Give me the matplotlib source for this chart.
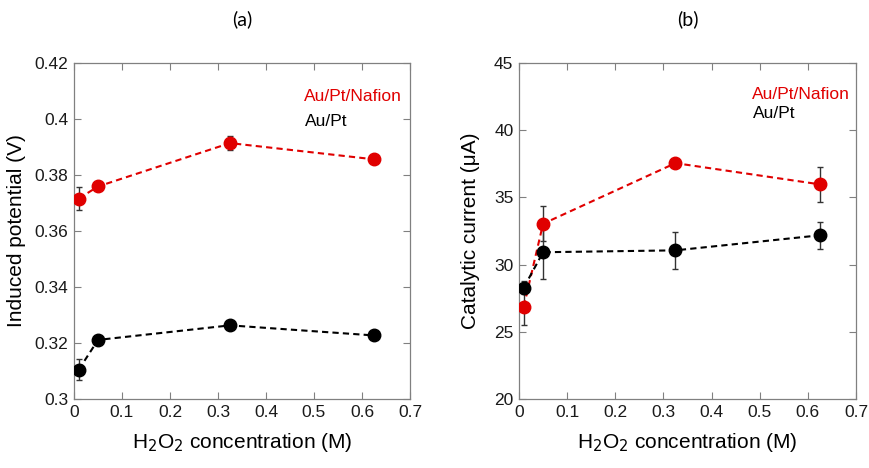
import matplotlib
matplotlib.use('Agg')
import matplotlib.pyplot as plt

# H2O2 concentration (M)
conc = [0.01, 0.05, 0.325, 0.625]

# (a) induced potential (V)
pot_nafion = [0.3716, 0.3759, 0.3914, 0.3856]
pot_nafion_err = [0.0041, 0.0008, 0.0026, 0.0008]
pot_aupt = [0.3105, 0.3211, 0.3263, 0.3227]
pot_aupt_err = [0.0038, 0.0008, 0.0008, 0.0008]

# (b) catalytic current (uA)
cur_nafion = [26.88, 33.04, 37.55, 35.97]
cur_nafion_err = [1.36, 1.32, 0.2, 1.29]
cur_aupt = [28.29, 30.92, 31.06, 32.18]
cur_aupt_err = [0.5, 1.98, 1.39, 0.99]

xticks = [0, 0.1, 0.2, 0.3, 0.4, 0.5, 0.6, 0.7]
xticklabels = ['0', '0.1', '0.2', '0.3', '0.4', '0.5', '0.6', '0.7']
yticks_a = [0.3, 0.32, 0.34, 0.36, 0.38, 0.4, 0.42]
yticklabels_a = ['0.3', '0.32', '0.34', '0.36', '0.38', '0.4', '0.42']
yticks_b = [20, 25, 30, 35, 40, 45]

plt.rcParams['font.family'] = ['Liberation Sans', 'DejaVu Sans']
RED = '#e00000'

fig = plt.figure(figsize=(8.7, 4.68), dpi=100)
ax1 = fig.add_axes([74/870, 1-399/468, 336/870, 336/468])
ax2 = fig.add_axes([519/870, 1-399/468, 337/870, 336/468])


def style(ax):
    for s in ax.spines.values():
        s.set_color('#808080')
        s.set_linewidth(0.9)
    ax.tick_params(direction='in', top=True, right=True, length=5,
                   width=0.8, color='#808080', labelsize=12.5,
                   labelcolor='#1a1a1a', pad=4)
    ax.set_xlim(0, 0.7)
    ax.set_xticks(xticks)
    ax.set_xticklabels(xticklabels)
    ax.set_xlabel('H$_2$O$_2$ concentration (M)', fontsize=15, labelpad=8)


def series(ax, y, err, color):
    # error bars sit under the markers, so the short ones are hidden
    ax.errorbar(conc, y, yerr=err, fmt='none', ecolor='#333333',
                elinewidth=1, capsize=2.5, capthick=1, zorder=2)
    ax.plot(conc, y, color=color, ls=(0, (3, 2)), lw=1.5,
            marker='o', ms=9, mfc=color, mec=color, zorder=3)


series(ax1, pot_nafion, pot_nafion_err, RED)
series(ax1, pot_aupt, pot_aupt_err, 'black')
style(ax1)
ax1.set_ylim(0.3, 0.42)
ax1.set_yticks(yticks_a)
ax1.set_yticklabels(yticklabels_a)
ax1.set_ylabel('Induced potential (V)', fontsize=15, labelpad=6)
ax1.text(0.685, 0.9, 'Au/Pt/Nafion', transform=ax1.transAxes, color=RED,
         fontsize=12.5, va='center')
ax1.text(0.688, 0.826, 'Au/Pt', transform=ax1.transAxes, color='black',
         fontsize=12.5, va='center')
ax1.set_title('(a)', fontsize=14, family=['Lato', 'DejaVu Sans'], pad=27)

series(ax2, cur_nafion, cur_nafion_err, RED)
series(ax2, cur_aupt, cur_aupt_err, 'black')
style(ax2)
ax2.set_ylim(20, 45)
ax2.set_yticks(yticks_b)
ax2.set_ylabel('Catalytic current (\u03bcA)', fontsize=15, labelpad=10)
ax2.text(0.69, 0.905, 'Au/Pt/Nafion', transform=ax2.transAxes, color=RED,
         fontsize=12.5, va='center')
ax2.text(0.694, 0.85, 'Au/Pt', transform=ax2.transAxes, color='black',
         fontsize=12.5, va='center')
ax2.set_title('(b)', fontsize=14, family=['Lato', 'DejaVu Sans'], pad=27)

fig.savefig('out.png', dpi=100)
